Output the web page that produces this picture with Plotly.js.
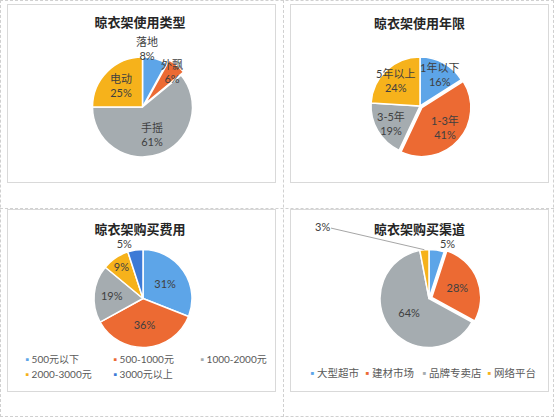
<!DOCTYPE html>
<html>
<head>
<meta charset="utf-8">
<script src="https://cdn.plot.ly/plotly-3.0.1.min.js"></script>
<style>
  body { margin: 0; width: 554px; height: 417px; position: relative; background: #fff; overflow: hidden; }
  .grid { position: absolute; border: 1px dashed #d0d0d0; box-sizing: border-box; }
  .panel { position: absolute; border: 1px solid #d9d9d9; box-sizing: border-box; background: #fff; }
</style>
</head>
<body>
<div class="grid" style="left:0;top:0;width:554px;height:417px"></div>
<div class="grid" style="left:283px;top:0;width:1px;height:417px;border-width:0 0 0 1px"></div>
<div class="grid" style="left:0;top:208px;width:554px;height:1px;border-width:1px 0 0 0"></div>
<div id="p1" class="panel" style="left:7px;top:4px;width:269px;height:179px"></div>
<div id="p2" class="panel" style="left:290px;top:4px;width:259px;height:179px"></div>
<div id="p3" class="panel" style="left:7px;top:209px;width:269px;height:183px"></div>
<div id="p4" class="panel" style="left:290px;top:209px;width:259px;height:183px"></div>
<script>
// data
var typeLabels = ['落地', '外飘', '手摇', '电动'];
var typeValues = [8, 6, 61, 25];

var yearLabels = ['1年以下', '1-3年', '3-5年', '5年以上'];
var yearValues = [16, 41, 19, 24];

var costLabels = ['500元以下', '500-1000元', '1000-2000元', '2000-3000元', '3000元以上'];
var costValues = [31, 36, 19, 9, 5];

var channelLabels = ['大型超市', '建材市场', '品牌专卖店', '网络平台'];
var channelValues = [5, 28, 64, 3];

var BLUE = '#5DA5E8', ORANGE = '#EC6A33', GRAY = '#A5ACB0', YELLOW = '#F6B21B', DBLUE = '#3D7AD6';
var FONT = 'Lato, "Noto Sans CJK SC", sans-serif';
var TEXTC = '#404040';

function sum(arr) {
  return arr.reduce(function (a, b) { return a + b; }, 0);
}

function domainFor(cx, cy, r, pull, W, H) {
  var half = r * (1 + pull);
  return {
    x: [(cx - half) / W, (cx + half) / W],
    y: [1 - (cy + half) / H, 1 - (cy - half) / H]
  };
}

function baseLayout(title, W, H, tx, ty) {
  return {
    width: W, height: H,
    margin: {l: 0, r: 0, t: 0, b: 0, pad: 0},
    paper_bgcolor: '#fff',
    showlegend: false,
    title: {
      text: '<b>' + title + '</b>',
      font: {family: '"Noto Sans CJK SC", sans-serif', size: 13, color: '#262626'},
      x: tx / W, xanchor: 'center', y: 1 - ty / H, yanchor: 'middle'
    },
    annotations: []
  };
}

// category + percent labels placed along each slice's middle angle
function sliceLabels(layout, labels, values, pulls, cx, cy, r, factors, shifts, W, H) {
  var total = sum(values), acc = 0;
  for (var i = 0; i < values.length; i++) {
    var mid = 2 * Math.PI * (acc + values[i] / 2) / total;
    acc += values[i];
    var R = r * (factors[i] + pulls[i]);
    layout.annotations.push({
      xref: 'paper', yref: 'paper',
      x: (cx + R * Math.sin(mid)) / W, y: 1 - (cy - R * Math.cos(mid)) / H,
      xanchor: 'center', yanchor: 'middle', xshift: shifts[i],
      text: labels[i] + '<br>' + Math.round(values[i] / total * 100) + '%',
      font: {family: FONT, size: 11, color: TEXTC},
      showarrow: false
    });
  }
}

function legendItems(layout, labels, colors, xs, ys, W, H, size) {
  for (var i = 0; i < labels.length; i++) {
    layout.annotations.push({
      xref: 'paper', yref: 'paper',
      x: xs[i] / W, y: 1 - ys[i] / H,
      xanchor: 'left', yanchor: 'middle',
      text: '<span style="color:' + colors[i] + '">▪</span> ' + labels[i],
      font: {family: FONT, size: size, color: '#595959'},
      showarrow: false
    });
  }
}

var config = {displayModeBar: false, staticPlot: true};

// chart 1
(function () {
  var W = 267, H = 177;
  var cx = 134.5, cy = 102, r = 50;
  var pulls = [0, 0.08, 0, 0];
  var data = [{
    type: 'pie', values: typeValues, labels: typeLabels,
    sort: false, direction: 'clockwise', rotation: 0,
    pull: pulls,
    marker: {colors: [BLUE, ORANGE, GRAY, YELLOW], line: {color: '#fff', width: 1.5}},
    textinfo: 'none',
    domain: domainFor(cx, cy, r, 0.08, W, H)
  }];
  var layout = baseLayout('晾衣架使用类型', W, H, 132, 17);
  sliceLabels(layout, typeLabels, typeValues, pulls, cx, cy, r,
    [1.2, 0.85, 0.58, 0.6], [-10, 0, 0, 0], W, H);
  Plotly.newPlot('p1', data, layout, config);
})();

// chart 2
(function () {
  var W = 257, H = 177;
  var cx = 129, cy = 101, r = 49;
  var pulls = [0, 0.05, 0, 0];
  var data = [{
    type: 'pie', values: yearValues, labels: yearLabels,
    sort: false, direction: 'clockwise', rotation: 0,
    pull: pulls,
    marker: {colors: [BLUE, ORANGE, GRAY, YELLOW], line: {color: '#fff', width: 1.5}},
    textinfo: 'none',
    domain: domainFor(cx, cy, r, 0.05, W, H)
  }];
  var layout = baseLayout('晾衣架使用年限', W, H, 128.5, 18);
  sliceLabels(layout, yearLabels, yearValues, pulls, cx, cy, r,
    [0.73, 0.62, 0.69, 0.72], [2, 0, 0, 0], W, H);
  Plotly.newPlot('p2', data, layout, config);
})();

// chart 3
(function () {
  var W = 267, H = 181;
  var colors = [BLUE, ORANGE, GRAY, YELLOW, DBLUE];
  var data = [{
    type: 'pie', values: costValues, labels: costLabels,
    sort: false, direction: 'clockwise', rotation: 0,
    marker: {colors: colors, line: {color: '#fff', width: 1.5}},
    textinfo: 'percent',
    textposition: ['inside', 'inside', 'inside', 'inside', 'outside'],
    insidetextorientation: 'horizontal',
    textfont: {family: FONT, size: 11, color: TEXTC},
    domain: domainFor(135, 88.5, 49, 0, W, H)
  }];
  var layout = baseLayout('晾衣架购买费用', W, H, 132, 19);
  legendItems(layout, costLabels, colors, [15, 103, 190, 15, 103], [149, 149, 149, 164, 164], W, H, 10);
  Plotly.newPlot('p3', data, layout, config);
})();

// chart 4
(function () {
  var W = 257, H = 181;
  var colors = [BLUE, ORANGE, GRAY, YELLOW];
  var cx = 138, cy = 88.5, r = 49;
  var data = [{
    type: 'pie', values: channelValues, labels: channelLabels,
    sort: false, direction: 'clockwise', rotation: 0,
    pull: [0, 0.06, 0, 0],
    marker: {colors: colors, line: {color: '#fff', width: 1.5}},
    textinfo: 'percent',
    texttemplate: ['%{percent}', '%{percent}', '%{percent}', ''],
    textposition: ['outside', 'inside', 'inside', 'none'],
    insidetextorientation: 'horizontal',
    textfont: {family: FONT, size: 11, color: TEXTC},
    domain: domainFor(cx, cy, r, 0.06, W, H)
  }];
  var layout = baseLayout('晾衣架购买渠道', W, H, 128.5, 19);
  legendItems(layout, channelLabels, colors, [17, 72, 129, 194], [163, 163, 163, 163], W, H, 10.5);

  // leader label for the smallest slice, pointing at its middle angle
  var total = sum(channelValues);
  var before = sum(channelValues.slice(0, 3));
  var ang = 2 * Math.PI * (before + channelValues[3] / 2) / total;
  var tipX = cx + r * Math.sin(ang), tipY = cy - r * Math.cos(ang);
  layout.annotations.push({
    xref: 'paper', yref: 'paper',
    x: tipX / W, y: 1 - tipY / H,
    text: Math.round(channelValues[3] / total * 100) + '%',
    font: {family: FONT, size: 11, color: TEXTC},
    showarrow: true, arrowhead: 0, arrowwidth: 1, arrowcolor: '#a6a6a6',
    ax: 31 - tipX, ay: 16 - tipY
  });
  Plotly.newPlot('p4', data, layout, config);
})();
</script>
</body>
</html>
